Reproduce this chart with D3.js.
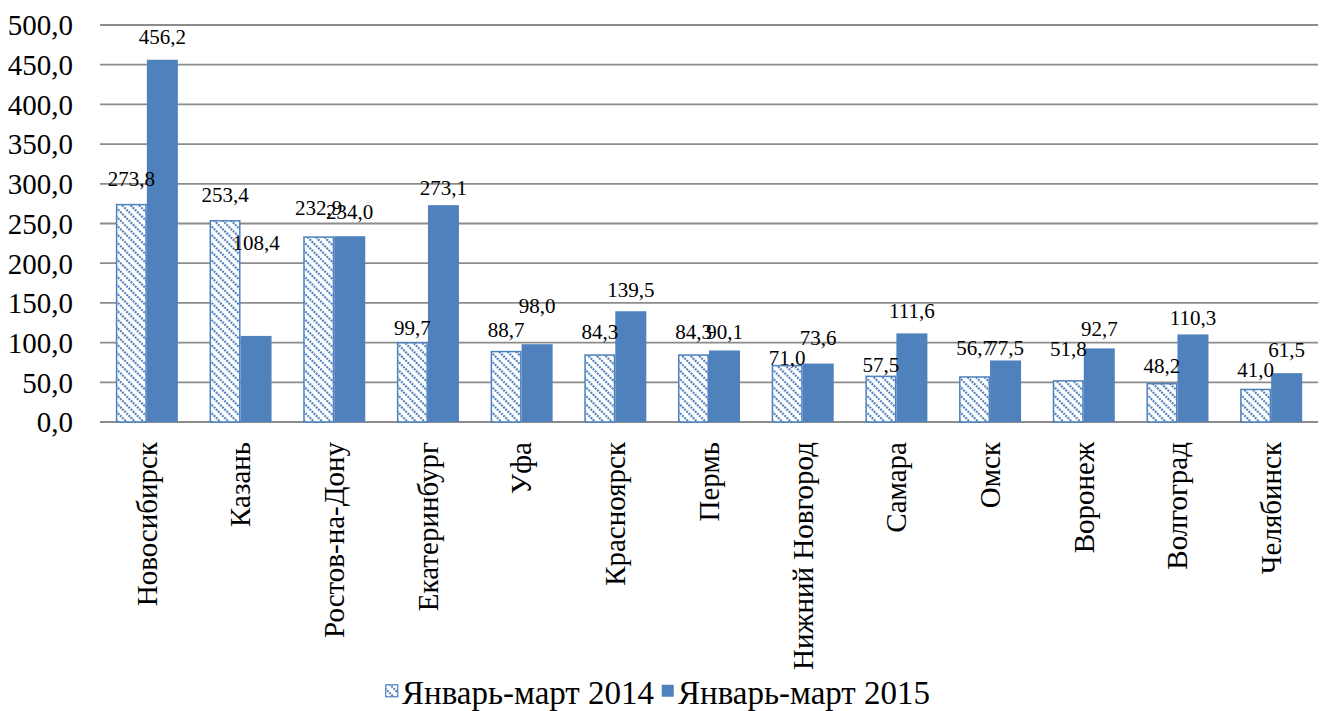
<!DOCTYPE html>
<html>
<head><meta charset="utf-8"><script src="https://d3js.org/d3.v7.min.js"></script></head>
<body style="margin:0">
<script>
      // data
      var cities = ["Новосибирск", "Казань", "Ростов-на-Дону", "Екатеринбург", "Уфа",
                    "Красноярск", "Пермь", "Нижний Новгород", "Самара", "Омск",
                    "Воронеж", "Волгоград", "Челябинск"];
      var values2014 = [273.8, 253.4, 232.9, 99.7, 88.7, 84.3, 84.3, 71.0, 57.5, 56.7, 51.8, 48.2, 41.0];
      var values2015 = [456.2, 108.4, 234.0, 273.1, 98.0, 139.5, 90.1, 73.6, 111.6, 77.5, 92.7, 110.3, 61.5];
      // where the value labels sit in the original (in value units, baseline)
      var labelAt2014 = [297.5, 277.3, 260.9, 109.7, 107.1, 104.6, 104.6, 71.8, 63.0, 84.4, 83.2, 61.8, 56.7];
      var labelAt2015 = [476.4, 216.8, 255.9, 286.1, 137.4, 157.5, 104.6, 97.0, 131.1, 84.4, 108.4, 122.3, 81.9];
      var yTicks = [0, 50, 100, 150, 200, 250, 300, 350, 400, 450, 500];
      var seriesNames = ["Январь-март 2014", "Январь-март 2015"];

      var w = 1320, h = 711;
      var margin = {top: 25, right: 2, bottom: 289, left: 100};
      var innerWidth = w - margin.left - margin.right;
      var innerHeight = h - margin.top - margin.bottom;
      var blue = "#4f81bd";
      var face = "Liberation Serif";
      var fmt = function(v) { return d3.format(".1f")(v).replace(".", ","); };

      // left-anchored text, shifted by a fraction of its own length
      function shiftBy(sel, frac) {
        sel.attr("text-anchor", "start").each(function() {
          var t = d3.select(this);
          var x = +t.attr("x") || 0;
          t.attr("x", x - frac * this.getComputedTextLength());
        });
      }

      var svg = d3.select("body").append("svg")
          .attr("width", w)
          .attr("height", h)
          .attr("font-family", face);

      var defs = svg.append("defs");
      var pat = defs.append("pattern")
          .attr("id", "hatch")
          .attr("patternUnits", "userSpaceOnUse")
          .attr("width", 6)
          .attr("height", 6)
          .attr("patternTransform", "rotate(-45)");
      pat.append("rect").attr("width", 6).attr("height", 6).attr("fill", "white");
      pat.append("line")
          .attr("x1", 3).attr("y1", 0).attr("x2", 3).attr("y2", 6)
          .attr("stroke", blue)
          .attr("stroke-width", 2.2)
          .attr("stroke-dasharray", "2,1");

      var x0 = d3.scaleBand()
          .domain(cities)
          .range([0, innerWidth])
          .paddingInner(0.338)
          .paddingOuter(0.169);
      var x1 = d3.scaleBand()
          .domain([0, 1])
          .range([0, x0.bandwidth()]);
      var y = d3.scaleLinear()
          .domain([0, 500])
          .range([innerHeight, 0]);

      var g = svg.append("g")
          .attr("transform", `translate(${margin.left},${margin.top})`);

      // gridlines
      g.selectAll("line.grid")
          .data(yTicks)
          .enter().append("line")
          .attr("class", "grid")
          .attr("x1", 0)
          .attr("x2", innerWidth)
          .attr("y1", function(d) { return y(d); })
          .attr("y2", function(d) { return y(d); })
          .attr("stroke", "#8c8c8c")
          .attr("stroke-width", 1.8);

      // y tick labels
      var yAxis = d3.axisLeft(y)
          .tickValues(yTicks)
          .tickFormat(fmt)
          .tickSize(0)
          .tickPadding(27);
      var yG = g.append("g")
          .call(yAxis)
          .attr("font-family", face)
          .attr("font-size", 29)
          .attr("text-anchor", "start")
          .call(function(s) { s.select(".domain").remove(); });
      yG.selectAll("text")
          .attr("font-family", face)
          .attr("font-size", 29)
          .attr("fill", "#000")
          .attr("dy", "0.34em")
          .call(shiftBy, 1);

      var rows = cities.map(function(c, i) {
        return {city: c, vals: [values2014[i], values2015[i]], labs: [labelAt2014[i], labelAt2015[i]]};
      });

      var groups = g.selectAll("g.city")
          .data(rows)
          .enter().append("g")
          .attr("class", "city")
          .attr("transform", function(d) { return `translate(${x0(d.city)},0)`; });

      groups.selectAll("rect")
          .data(function(d) { return d.vals.map(function(v, k) { return {k: k, v: v}; }); })
          .enter().append("rect")
          .attr("x", function(d) { return x1(d.k) + (d.k === 0 ? 0.75 : 0); })
          .attr("width", function(d) { return x1.bandwidth() - (d.k === 0 ? 1.5 : 0); })
          .attr("y", function(d) { return y(d.v); })
          .attr("height", function(d) { return innerHeight - y(d.v); })
          .attr("fill", function(d) { return d.k === 0 ? "url(#hatch)" : blue; })
          .attr("stroke", function(d) { return d.k === 0 ? blue : "none"; })
          .attr("stroke-width", 1.5);

      groups.selectAll("text.val")
          .data(function(d) { return d.vals.map(function(v, k) { return {k: k, v: v, at: d.labs[k]}; }); })
          .enter().append("text")
          .attr("class", "val")
          .attr("x", function(d) { return x1(d.k) + x1.bandwidth() / 2; })
          .attr("y", function(d) { return y(d.at); })
          .attr("font-family", face)
          .attr("font-size", 21)
          .text(function(d) { return fmt(d.v); })
          .call(shiftBy, 0.5);

      // category labels
      g.append("g")
          .selectAll("text")
          .data(cities)
          .enter().append("text")
          .attr("transform", function(d) {
            return `translate(${x0(d) + x0.bandwidth() / 2},${innerHeight + 20}) rotate(-90)`;
          })
          .attr("x", 0)
          .attr("dy", "0.34em")
          .attr("font-family", face)
          .attr("font-size", 29)
          .text(function(d) { return d; })
          .call(shiftBy, 1);

      // legend
      var legend = svg.append("g").attr("transform", "translate(385,684)");
      var items = legend.selectAll("g")
          .data(seriesNames)
          .enter().append("g")
          .attr("transform", function(d, i) { return `translate(${i * 276},0)`; });
      items.append("rect")
          .attr("x", 0.75).attr("y", 0.75)
          .attr("width", 12).attr("height", 12)
          .attr("fill", function(d, i) { return i === 0 ? "url(#hatch)" : blue; })
          .attr("stroke", function(d, i) { return i === 0 ? blue : "none"; })
          .attr("stroke-width", 1.2);
      items.append("text")
          .attr("x", 17)
          .attr("y", 20)
          .attr("font-family", face)
          .attr("font-size", 33)
          .text(function(d) { return d; });
</script>
</body>
</html>
